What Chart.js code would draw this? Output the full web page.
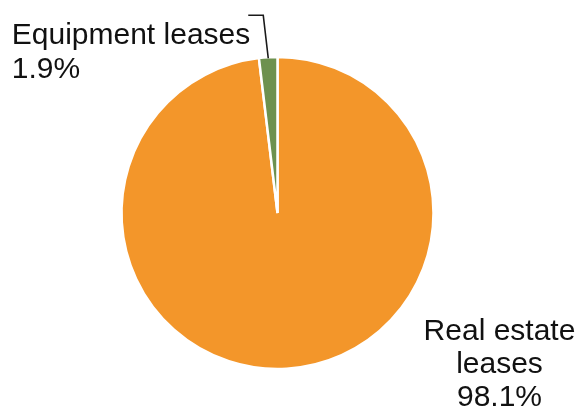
<!DOCTYPE html>
<html lang="en">
<head>
    <meta charset="UTF-8">
    <title>Lease Mix</title>
    <script src="https://cdn.jsdelivr.net/npm/chart.js"></script>
    <style>
        html, body {
            margin: 0;
            padding: 0;
            background-color: white;
        }
        #chartContainer {
            width: 581px;
            height: 411px;
        }
    </style>
</head>
<body>

<div id="chartContainer">
    <canvas id="leaseChart"></canvas>
</div>

<script>
    // Share of leases by type (percent)
    const categories = ['Real estate leases', 'Equipment leases'];
    const shares = [98.1, 1.9];
    const sliceColors = ['#F3962A', '#6D914F'];

    const textColor = '#111111';
    const labelFont = '30px "Liberation Sans", Arial, sans-serif';

    function pctText(i) {
        const total = shares.reduce((a, b) => a + b, 0);
        return (shares[i] / total * 100).toFixed(1) + '%';
    }

    // Draws the two data labels: a leader-line label for the small slice
    // and a stacked label beside the big one
    const sliceLabels = {
        id: 'sliceLabels',
        afterDraw(chart) {
            const ctx = chart.ctx;
            const arcs = chart.getDatasetMeta(0).data;
            ctx.save();
            ctx.font = labelFont;
            ctx.fillStyle = textColor;
            ctx.textBaseline = 'alphabetic';

            // small slice (Equipment leases)
            const small = arcs[1];
            const mid = (small.startAngle + small.endAngle) / 2;
            const px = small.x + Math.cos(mid) * (small.outerRadius - 1);
            const py = small.y + Math.sin(mid) * (small.outerRadius - 1);
            const ex = px - 5, ey = py - 43;
            const hx = ex - 15;
            ctx.strokeStyle = '#1a1a1a';
            ctx.lineWidth = 1.6;
            ctx.beginPath();
            ctx.moveTo(px, py);
            ctx.lineTo(ex, ey);
            ctx.lineTo(hx, ey);
            ctx.stroke();

            const line1 = categories[1];
            const w = ctx.measureText(line1).width;
            const left = hx + 2 - w;
            ctx.textAlign = 'left';
            ctx.fillText(line1, left, ey + 29);
            ctx.fillText(pctText(1), left, ey + 63);

            // big slice (Real estate leases)
            const big = arcs[0];
            const lx = big.x + 222;
            const ly = big.y + 127;
            ctx.textAlign = 'center';
            ctx.fillText('Real estate', lx, ly);
            ctx.fillText('leases', lx, ly + 33);
            ctx.fillText(pctText(0), lx, ly + 66);

            ctx.restore();
        }
    };

    const ctx1 = document.getElementById('leaseChart').getContext('2d');
    new Chart(ctx1, {
        type: 'pie',
        data: {
            labels: categories,
            datasets: [{
                data: shares,
                backgroundColor: sliceColors,
                borderColor: '#ffffff',
                borderWidth: 2.5
            }]
        },
        options: {
            responsive: true,
            maintainAspectRatio: false,
            animation: false,
            radius: 156,
            layout: {
                padding: { left: 0, right: 26, top: 15, bottom: 0 }
            },
            plugins: {
                legend: { display: false },
                tooltip: { enabled: false }
            }
        },
        plugins: [sliceLabels]
    });
</script>

</body>
</html>
